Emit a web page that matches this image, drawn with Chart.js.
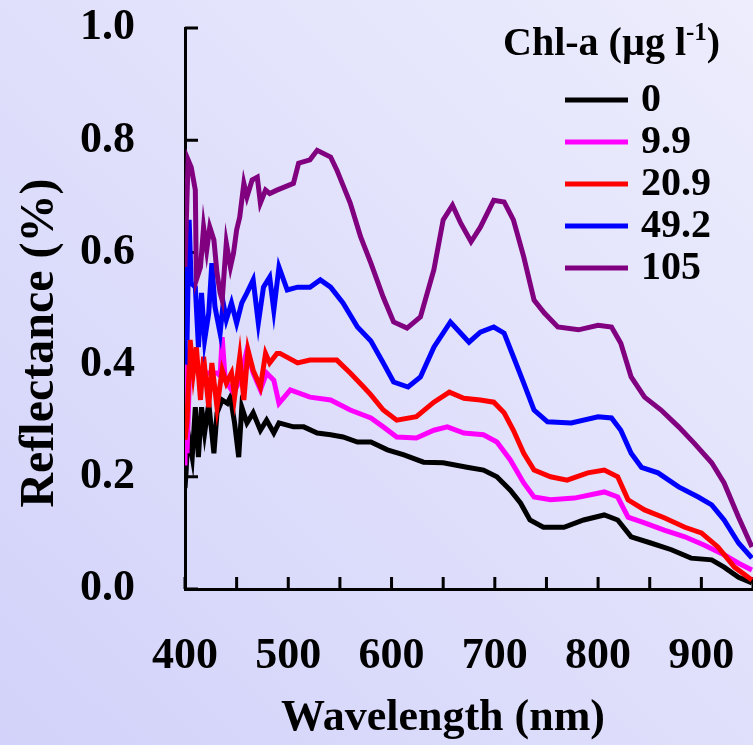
<!DOCTYPE html>
<html>
<head>
<meta charset="utf-8">
<script src="https://cdn.jsdelivr.net/npm/chart.js@4"></script>
<style>
  html, body { margin: 0; padding: 0; }
  body {
    width: 753px; height: 745px; overflow: hidden;
    background: linear-gradient(to bottom left, #ededfd, #d2d2fa);
  }
  canvas { display: block; }
</style>
</head>
<body>
<canvas id="chart" width="753" height="745"></canvas>
<script>
// Chl-a concentration classes (legend) and their colours
const chlLabels = ["0", "9.9", "20.9", "49.2", "105"];
const chlColors = ["#000000", "#ff00ff", "#ff0000", "#0000ff", "#800080"];

// reflectance spectra (wavelength nm / reflectance %)
const wl0 = [400, 401, 403, 407, 410, 413, 416, 419, 423, 428, 431, 436, 441, 444, 448, 452, 455, 460, 466, 473, 479, 486, 491, 505, 515, 528, 541, 553, 567, 580, 596, 612, 631, 650, 673, 689, 702, 715, 725, 734, 747, 767, 786, 806, 819, 832, 851, 871, 890, 910, 922, 936, 949];
const refl0 = [0.18, 0.207, 0.278, 0.235, 0.324, 0.235, 0.324, 0.278, 0.331, 0.242, 0.314, 0.337, 0.331, 0.342, 0.296, 0.235, 0.324, 0.296, 0.314, 0.283, 0.301, 0.278, 0.296, 0.289, 0.289, 0.278, 0.275, 0.271, 0.262, 0.262, 0.248, 0.239, 0.226, 0.225, 0.217, 0.212, 0.2, 0.176, 0.153, 0.123, 0.11, 0.11, 0.123, 0.132, 0.123, 0.093, 0.082, 0.07, 0.055, 0.052, 0.039, 0.021, 0.011];

const wl1 = [400, 401, 402, 405, 411, 421, 431, 434, 436, 439, 447, 453, 460, 466, 473, 479, 486, 491, 502, 521, 541, 560, 580, 592, 605, 624, 641, 654, 670, 689, 702, 715, 728, 738, 754, 777, 806, 819, 829, 845, 864, 884, 903, 922, 936, 949];
const refl1 = [0.22, 0.43, 0.242, 0.42, 0.396, 0.385, 0.385, 0.38, 0.449, 0.372, 0.349, 0.372, 0.426, 0.385, 0.355, 0.385, 0.372, 0.331, 0.355, 0.342, 0.337, 0.319, 0.305, 0.289, 0.271, 0.269, 0.283, 0.289, 0.278, 0.275, 0.262, 0.23, 0.189, 0.164, 0.159, 0.162, 0.173, 0.164, 0.128, 0.118, 0.105, 0.093, 0.078, 0.061, 0.046, 0.034];

const wl2 = [400, 402, 405, 408, 411, 415, 418, 423, 426, 431, 436, 440, 445, 448, 453, 457, 461, 466, 473, 478, 482, 489, 492, 509, 521, 534, 547, 560, 573, 580, 592, 605, 624, 641, 656, 670, 686, 699, 709, 718, 728, 738, 754, 770, 790, 806, 819, 829, 845, 864, 884, 900, 916, 932, 949];
const refl2 = [0.266, 0.3, 0.444, 0.385, 0.431, 0.337, 0.414, 0.324, 0.403, 0.324, 0.39, 0.367, 0.385, 0.342, 0.414, 0.337, 0.426, 0.39, 0.36, 0.42, 0.403, 0.42, 0.42, 0.403, 0.408, 0.408, 0.408, 0.385, 0.36, 0.346, 0.319, 0.301, 0.307, 0.333, 0.351, 0.34, 0.337, 0.333, 0.314, 0.283, 0.242, 0.212, 0.2, 0.194, 0.207, 0.212, 0.2, 0.159, 0.141, 0.127, 0.11, 0.1, 0.075, 0.039, 0.016];

const wl3 = [400, 401, 402, 404, 406, 410, 413, 416, 419, 423, 426, 429, 434, 437, 440, 445, 450, 455, 460, 466, 471, 476, 482, 486, 491, 499, 509, 521, 531, 541, 553, 567, 580, 592, 602, 616, 628, 641, 657, 667, 675, 686, 699, 709, 718, 728, 738, 751, 774, 800, 813, 822, 832, 842, 858, 878, 897, 910, 922, 936, 949];
const refl3 = [0.40, 0.58, 0.444, 0.658, 0.545, 0.538, 0.431, 0.528, 0.444, 0.492, 0.581, 0.503, 0.456, 0.51, 0.48, 0.51, 0.474, 0.51, 0.528, 0.551, 0.474, 0.538, 0.556, 0.497, 0.574, 0.533, 0.538, 0.538, 0.551, 0.538, 0.51, 0.467, 0.442, 0.403, 0.369, 0.36, 0.378, 0.431, 0.476, 0.456, 0.44, 0.458, 0.467, 0.456, 0.414, 0.367, 0.319, 0.298, 0.296, 0.307, 0.305, 0.283, 0.242, 0.217, 0.207, 0.182, 0.164, 0.15, 0.123, 0.082, 0.055];

const wl4 = [400, 403, 406, 410, 411, 415, 418, 421, 424, 428, 431, 434, 436, 440, 444, 447, 450, 453, 457, 460, 465, 470, 473, 478, 482, 489, 505, 510, 521, 528, 541, 547, 560, 570, 580, 592, 602, 615, 628, 641, 650, 659, 667, 677, 686, 699, 709, 718, 728, 738, 748, 761, 781, 800, 813, 822, 832, 845, 861, 878, 893, 910, 922, 936, 949];
const refl4 = [0.574, 0.765, 0.752, 0.711, 0.551, 0.574, 0.645, 0.604, 0.645, 0.622, 0.563, 0.528, 0.515, 0.617, 0.574, 0.599, 0.64, 0.663, 0.723, 0.699, 0.729, 0.734, 0.688, 0.711, 0.705, 0.711, 0.723, 0.759, 0.765, 0.782, 0.77, 0.747, 0.688, 0.628, 0.581, 0.52, 0.476, 0.465, 0.485, 0.569, 0.658, 0.684, 0.652, 0.619, 0.645, 0.693, 0.69, 0.658, 0.592, 0.515, 0.492, 0.467, 0.462, 0.47, 0.467, 0.438, 0.378, 0.342, 0.319, 0.289, 0.26, 0.225, 0.189, 0.128, 0.075];

const wavelengths = [wl0, wl1, wl2, wl3, wl4];
const reflectances = [refl0, refl1, refl2, refl3, refl4];

const xTickLabels = [400, 500, 600, 700, 800, 900];
const xTitle = "Wavelength (nm)";
const yTitle = "Reflectance (%)";
const legendTitle = ["Chl-a (\u00b5g l", "-1", ")"];

const serif = "'Liberation Serif', 'Times New Roman', serif";

// fixed axis box sizes, no extra room for the edge labels
function fixBox(scale, size) {
    if (scale.isHorizontal()) scale.height = size;
    else scale.width = size;
    scale.paddingLeft = 0;
    scale.paddingRight = 0;
    scale.paddingTop = 0;
    scale.paddingBottom = 0;
}

const decorations = {
    id: "decorations",
    beforeDatasetsDraw(chart) {
        // tick marks point into the plot
        const { ctx, chartArea, scales: { x, y } } = chart;
        ctx.save();
        ctx.strokeStyle = "#000";
        ctx.lineWidth = 3;
        ctx.beginPath();
        x.ticks.forEach(t => {
            const px = x.getPixelForValue(t.value);
            ctx.moveTo(px, chartArea.bottom);
            ctx.lineTo(px, chartArea.bottom - 12);
        });
        y.ticks.forEach(t => {
            const py = y.getPixelForValue(t.value);
            ctx.moveTo(chartArea.left, py);
            ctx.lineTo(chartArea.left + 13, py);
        });
        ctx.stroke();
        ctx.restore();
    },
    afterDraw(chart) {
        const ctx = chart.ctx;
        ctx.save();
        ctx.fillStyle = "#000";

        // axis titles
        ctx.font = `bold 44px ${serif}`;
        ctx.textAlign = "center";
        ctx.textBaseline = "alphabetic";
        ctx.fillText(xTitle, 443, 730);

        ctx.save();
        ctx.translate(53, 343);
        ctx.rotate(-Math.PI / 2);
        ctx.font = `bold 48px ${serif}`;
        ctx.fillText(yTitle, 0, 0);
        ctx.restore();

        // legend title with superscript
        ctx.textAlign = "left";
        let tx = 503;
        ctx.font = `bold 40px ${serif}`;
        ctx.fillText(legendTitle[0], tx, 55);
        tx += ctx.measureText(legendTitle[0]).width;
        ctx.font = `bold 25px ${serif}`;
        ctx.fillText(legendTitle[1], tx, 40);
        tx += ctx.measureText(legendTitle[1]).width;
        ctx.font = `bold 40px ${serif}`;
        ctx.fillText(legendTitle[2], tx, 55);

        // legend entries
        ctx.textBaseline = "middle";
        chart.data.datasets.forEach((ds, i) => {
            const ly = 100 + i * 42;
            ctx.strokeStyle = ds.borderColor;
            ctx.lineWidth = 5;
            ctx.beginPath();
            ctx.moveTo(565, ly);
            ctx.lineTo(628, ly);
            ctx.stroke();
            ctx.fillText(ds.label, 641, ly + 1);
        });
        ctx.restore();
    }
};

new Chart(document.getElementById("chart"), {
    type: "line",
    data: {
        datasets: chlLabels.map((label, i) => ({
            label: label,
            data: wavelengths[i].map((w, j) => ({ x: w, y: reflectances[i][j] })),
            borderColor: chlColors[i],
            borderWidth: 5,
            pointRadius: 0,
            fill: false,
            tension: 0,
            order: chlLabels.length - i,
        })),
    },
    options: {
        responsive: false,
        animation: false,
        devicePixelRatio: 1,
        layout: { padding: { top: 28, right: 0, bottom: 0, left: 0 } },
        plugins: {
            legend: { display: false },
            tooltip: { enabled: false },
        },
        scales: {
            x: {
                type: "linear",
                min: 400,
                max: 950,
                grid: { display: false, drawTicks: false },
                border: { display: true, color: "#000", width: 3 },
                ticks: {
                    stepSize: 50,
                    autoSkip: false,
                    maxRotation: 0,
                    padding: 41,
                    color: "#000",
                    font: { family: serif, weight: "bold", size: 44 },
                    callback: v => (xTickLabels.includes(v) ? String(v) : ""),
                },
                afterFit: s => fixBox(s, 156),
            },
            y: {
                min: 0,
                max: 1,
                grid: { display: false, drawTicks: false },
                border: { display: true, color: "#000", width: 3 },
                ticks: {
                    stepSize: 0.2,
                    padding: 50,
                    color: "#000",
                    font: { family: serif, weight: "bold", size: 44 },
                    callback: v => v.toFixed(1),
                },
                afterFit: s => fixBox(s, 185),
            },
        },
    },
    plugins: [decorations],
});
</script>
</body>
</html>
